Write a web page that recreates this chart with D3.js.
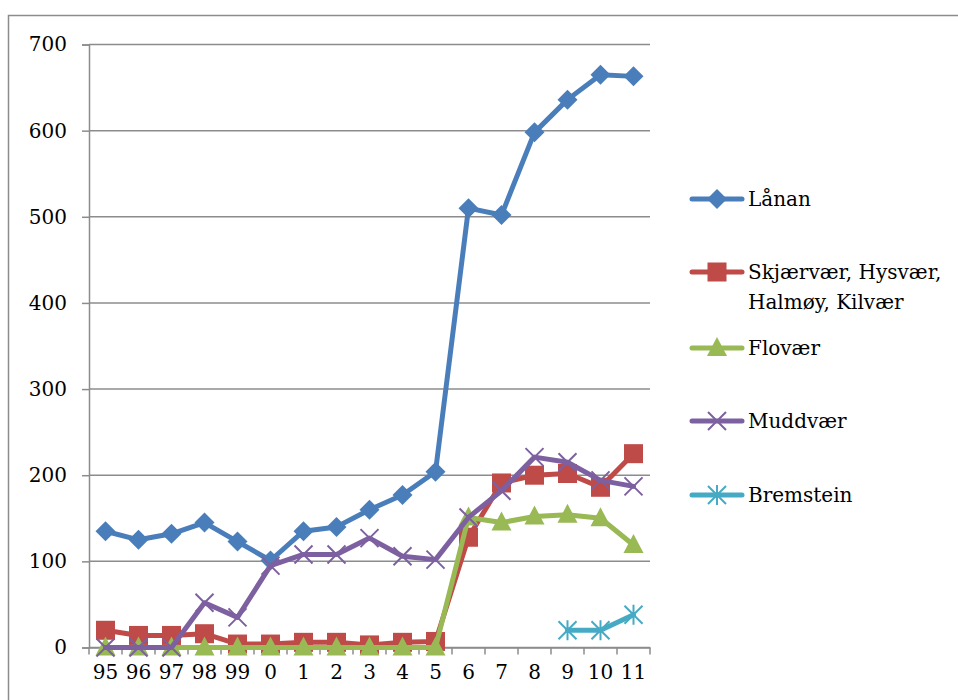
<!DOCTYPE html>
<html><head><meta charset="utf-8">
<script src="https://cdn.jsdelivr.net/npm/d3@7"></script>
<style>body{margin:0;background:#fff}svg{display:block}text{font-family:"DejaVu Serif","Liberation Serif",serif}</style>
</head><body>
<script>
const categories = ["95","96","97","98","99","0","1","2","3","4","5","6","7","8","9","10","11"];
const lanan     = [135,125,132,145,123,101,135,140,160,177,204,510,502,598,636,665,663];
const skjaervaer= [20,14,14,16,4,4,6,6,3,6,7,128,191,200,202,186,225];
const flovaer   = [0,0,0,0,0,0,0,0,0,0,0,151,145,152,154,150,119];
const muddvaer  = [0,0,0,52,35,95,108,108,127,106,102,151,182,221,215,194,187];
const bremstein = [null,null,null,null,null,null,null,null,null,null,null,null,null,null,20,20,38];
const yTicks = [0,100,200,300,400,500,600,700];
const seriesNames = ["Lånan","Skjærvær, Hysvær,\nHalmøy, Kilvær","Flovær","Muddvær","Bremstein"];

(function(){
const series = [
  {name: seriesNames[0], values: lanan, color: "#4A7EBB", marker: "diamond"},
  {name: seriesNames[1], values: skjaervaer, color: "#BE4B48", marker: "square"},
  {name: seriesNames[2], values: flovaer, color: "#98B954", marker: "triangle"},
  {name: seriesNames[3], values: muddvaer, color: "#7D60A0", marker: "x"},
  {name: seriesNames[4], values: bremstein, color: "#46AAC5", marker: "star"}
];

const W = 958, H = 700;
const svg = d3.select("body").append("svg").attr("width", W).attr("height", H);

svg.append("rect").attr("x", 8.5).attr("y", 15.5).attr("width", W + 10).attr("height", H + 10)
  .attr("fill", "none").attr("stroke", "#8c8c8c").attr("stroke-width", 1.5);

const pL = 89, pR = 650, pT = 44.5, pB = 647.5;
const x = d3.scaleBand().domain(categories).range([pL, pR]).padding(0);
const y = d3.scaleLinear().domain([0, 700]).range([pB, pT]);
const cx = c => x(c) + x.bandwidth() / 2;

svg.append("g").selectAll("line").data(yTicks).join("line")
  .attr("x1", pL).attr("x2", pR).attr("y1", d => y(d)).attr("y2", d => y(d))
  .attr("stroke", "#8c8c8c").attr("stroke-width", 1.5);

const yAxis = svg.append("g").attr("transform", `translate(${pL},0)`)
  .call(d3.axisLeft(y).tickValues(yTicks).tickSize(7).tickPadding(15));
yAxis.attr("font-family", null);
yAxis.select(".domain").attr("stroke", "#8c8c8c").attr("stroke-width", 1.5);
yAxis.selectAll(".tick line").attr("stroke", "#8c8c8c").attr("stroke-width", 1.5);
yAxis.selectAll("text").attr("font-size", 20).attr("fill", "#000");

const xAxis = svg.append("g").attr("transform", `translate(0,${pB})`)
  .call(d3.axisBottom(x).tickSize(0).tickPadding(17));
xAxis.attr("font-family", null);
xAxis.select(".domain").attr("stroke", "#8c8c8c").attr("stroke-width", 1.5);
xAxis.selectAll("text").attr("font-size", 20).attr("fill", "#000");
svg.append("g").selectAll("line").data(d3.range(categories.length + 1)).join("line")
  .attr("x1", i => pL + i * x.bandwidth()).attr("x2", i => pL + i * x.bandwidth())
  .attr("y1", pB).attr("y2", pB + 7)
  .attr("stroke", "#8c8c8c").attr("stroke-width", 1.5);

function drawMarker(g, type, color, px, py) {
  if (type === "diamond") {
    const r = 10;
    g.append("path").attr("d", `M${px},${py - r}L${px + r},${py}L${px},${py + r}L${px - r},${py}Z`).attr("fill", color);
  } else if (type === "square") {
    const s = 9.5;
    g.append("rect").attr("x", px - s).attr("y", py - s).attr("width", 2 * s).attr("height", 2 * s).attr("fill", color);
  } else if (type === "triangle") {
    g.append("path").attr("d", `M${px},${py - 11}L${px + 10},${py + 8}L${px - 10},${py + 8}Z`).attr("fill", color);
  } else if (type === "x") {
    const s = 9;
    g.append("path").attr("d", `M${px - s},${py - s}L${px + s},${py + s}M${px + s},${py - s}L${px - s},${py + s}`)
      .attr("stroke", color).attr("stroke-width", 2);
  } else if (type === "star") {
    const s = 9;
    g.append("path").attr("d", `M${px - s},${py - s}L${px + s},${py + s}M${px + s},${py - s}L${px - s},${py + s}M${px},${py - 10}L${px},${py + 10}`)
      .attr("stroke", color).attr("stroke-width", 2);
  }
}

const line = d3.line().defined(d => d.v !== null).x(d => cx(d.c)).y(d => y(d.v));
series.forEach(s => {
  const pts = categories.map((c, i) => ({c, v: s.values[i]}));
  const g = svg.append("g");
  g.append("path").attr("d", line(pts)).attr("fill", "none").attr("stroke", s.color)
    .attr("stroke-width", 5).attr("stroke-linejoin", "round").attr("stroke-linecap", "round");
  pts.filter(p => p.v !== null).forEach(p => drawMarker(g, s.marker, s.color, cx(p.c), y(p.v)));
});

const legendY = [199, 272, 348, 421, 495];
series.forEach((s, i) => {
  const g = svg.append("g");
  const ly = legendY[i];
  g.append("line").attr("x1", 692).attr("x2", 742).attr("y1", ly).attr("y2", ly)
    .attr("stroke", s.color).attr("stroke-width", 5).attr("stroke-linecap", "round");
  drawMarker(g, s.marker, s.color, 717, ly);
  const lines = s.name.split("\n");
  const t = g.append("text").attr("x", 748).attr("y", ly + 7).attr("font-size", 20).attr("fill", "#000");
  lines.forEach((l, j) => t.append("tspan").attr("x", 748).attr("dy", j === 0 ? 0 : 30).text(l));
});
})();
</script>
</body></html>
